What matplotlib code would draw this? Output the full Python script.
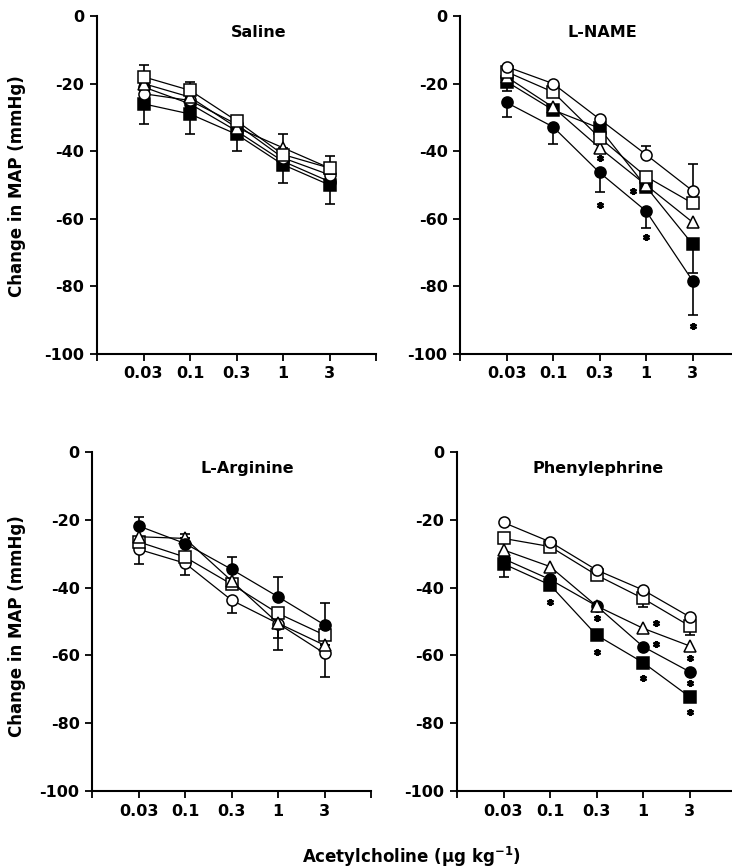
import numpy as np
import matplotlib
matplotlib.use("Agg")
import matplotlib.pyplot as plt

plt.rcParams["font.family"] = ["DejaVu Sans"]
plt.rcParams["font.weight"] = "bold"

doses = ["0.03", "0.1", "0.3", "1", "3"]

# Saline
saline_open_circle = [-23, -25, -32, -42, -47]
saline_open_square = [-18, -22, -31, -41, -45]
saline_open_triangle = [-20, -24, -33, -39, -45]
saline_filled_circle = [-21, -26, -34, -43, -49]
saline_filled_square = [-26, -29, -35, -44, -50]
saline_sq_err_up = [3.5, 2.5, 1.5, 0, 3.5]
saline_tri_err_up = [0, 0, 0, 4, 0]
saline_fsq_err_lo = [6, 6, 5, 5.5, 5.5]

# L-NAME
lname_open_circle = [-15, -20, -30.5, -41, -51.7]
lname_open_square = [-16.5, -22.5, -36, -47.5, -55.4]
lname_open_triangle = [-18, -27, -39, -50, -61]
lname_filled_square = [-19.4, -27.8, -33.2, -50.5, -67.5]
lname_filled_circle = [-25.6, -32.8, -46.3, -57.7, -78.3]
lname_oc_err_up = [0, 0, 0, 2.5, 8]
lname_fsq_err_lo = [2.8, 0, 0, 0, 8.5]
lname_fc_err_lo = [4.2, 5, 5.7, 5, 10.2]
lname_stars_x = [3, 3, 3.73, 4, 5]
lname_stars_y = [-42, -56, -51.7, -65.3, -91.7]

# L-Arginine
larg_filled_circle = [-21.8, -27, -34.6, -42.7, -51]
larg_open_triangle = [-25, -25.5, -38, -50.5, -57]
larg_open_square = [-26.5, -31, -39, -47.6, -54]
larg_open_circle = [-28.7, -32.8, -43.7, -50.6, -59.4]
larg_fc_err_up = [2.7, 2.8, 3.7, 5.9, 6.6]
larg_oc_err_lo = [4.3, 3.5, 3.7, 7.8, 6.9]
larg_tri_err_lo = [0, 0, 0, 4.4, 0]

# Phenylephrine
phe_open_circle = [-20.8, -26.5, -34.8, -40.7, -48.6]
phe_open_square = [-25.5, -27.9, -36.3, -43.2, -51.3]
phe_open_triangle = [-28.9, -33.8, -45.4, -52, -57.2]
phe_filled_circle = [-31.5, -37.6, -45.4, -57.4, -64.8]
phe_filled_square = [-33, -39.2, -54, -62.1, -72.2]
phe_sq_err_lo = [0, 0, 0, 2.6, 2.7]
phe_fsq_err_lo = [4, 0, 0, 0, 0]
phe_stars_x = [2, 3, 3, 4.27, 4.27, 4, 5, 5, 5]
phe_stars_y = [-44.2, -49, -58.9, -50.3, -56.6, -66.8, -60.9, -68, -76.6]

x = np.arange(1, 6)

fig = plt.figure(figsize=(7.32, 8.68), dpi=100)

unit_w = 46.5 / 732
axes_w = 6 * unit_w
ax_tl = fig.add_axes([97 / 732, 0.5922, axes_w, 0.3894])
ax_tr = fig.add_axes([460 / 732, 0.5922, axes_w, 0.3894])
ax_bl = fig.add_axes([92 / 732, 0.0887, axes_w, 0.3906])
ax_br = fig.add_axes([457 / 732, 0.0887, axes_w, 0.3906])

styles = {
    "oc": dict(marker="o", mfc="white"),
    "osq": dict(marker="s", mfc="white"),
    "otri": dict(marker="^", mfc="white"),
    "fc": dict(marker="o", mfc="black"),
    "fsq": dict(marker="s", mfc="black"),
}


def series(ax, y, kind, lo=None, hi=None):
    if lo is not None or hi is not None:
        lo = np.zeros(5) if lo is None else np.array(lo)
        hi = np.zeros(5) if hi is None else np.array(hi)
        ax.errorbar(x, y, yerr=[lo, hi], fmt="none", ecolor="black",
                    elinewidth=1.2, capsize=3.5, capthick=1.2, zorder=2)
    ax.plot(x, y, color="black", lw=0.9, ms=8, mec="black", mew=1.1,
            zorder=3, **styles[kind])


def stars(ax, sx, sy):
    ax.plot(sx, sy, ls="none", marker=(6, 2, 0), ms=5, mew=1.6,
            color="black", zorder=4)


def setup(ax, title, tx):
    ax.set_xlim(0, 6)
    ax.set_ylim(-100, 0)
    ax.set_xticks(range(7))
    ax.set_xticklabels([""] + doses + [""])
    ax.set_yticks([0, -20, -40, -60, -80, -100])
    ax.set_yticklabels(["0", "-20", "-40", "-60", "-80", "-100"])
    for s in ["top", "right"]:
        ax.spines[s].set_visible(False)
    for s in ["left", "bottom"]:
        ax.spines[s].set_linewidth(1.5)
    ax.tick_params(axis="both", direction="out", length=5, width=1.3,
                   labelsize=11.5, pad=4)
    ax.text(tx, 0.95, title, transform=ax.transAxes, ha="center",
            va="center", fontsize=11.5, fontweight="bold")


# Saline
series(ax_tl, saline_filled_square, "fsq", lo=saline_fsq_err_lo)
series(ax_tl, saline_filled_circle, "fc")
series(ax_tl, saline_open_circle, "oc")
series(ax_tl, saline_open_triangle, "otri", hi=saline_tri_err_up)
series(ax_tl, saline_open_square, "osq", hi=saline_sq_err_up)
setup(ax_tl, "Saline", 0.58)

# L-NAME
series(ax_tr, lname_filled_circle, "fc", lo=lname_fc_err_lo)
series(ax_tr, lname_filled_square, "fsq", lo=lname_fsq_err_lo)
series(ax_tr, lname_open_triangle, "otri")
series(ax_tr, lname_open_square, "osq")
series(ax_tr, lname_open_circle, "oc", hi=lname_oc_err_up)
stars(ax_tr, lname_stars_x, lname_stars_y)
setup(ax_tr, "L-NAME", 0.51)

# L-Arginine
series(ax_bl, larg_open_circle, "oc", lo=larg_oc_err_lo)
series(ax_bl, larg_open_square, "osq")
series(ax_bl, larg_open_triangle, "otri", lo=larg_tri_err_lo)
series(ax_bl, larg_filled_circle, "fc", hi=larg_fc_err_up)
setup(ax_bl, "L-Arginine", 0.555)

# Phenylephrine
series(ax_br, phe_filled_square, "fsq", lo=phe_fsq_err_lo)
series(ax_br, phe_filled_circle, "fc")
series(ax_br, phe_open_triangle, "otri")
series(ax_br, phe_open_square, "osq", lo=phe_sq_err_lo)
series(ax_br, phe_open_circle, "oc")
stars(ax_br, phe_stars_x, phe_stars_y)
setup(ax_br, "Phenylephrine", 0.505)

fig.text(17 / 732, 0.786, "Change in MAP (mmHg)", rotation=90, ha="center",
         va="center", fontsize=12, fontweight="bold")
fig.text(17 / 732, 0.279, "Change in MAP (mmHg)", rotation=90, ha="center",
         va="center", fontsize=12, fontweight="bold")
fig.text(412 / 732, 0.0127, "Acetylcholine (\u00b5g kg$^{\\mathbf{-1}}$)",
         ha="center", va="center", fontsize=12, fontweight="bold")

fig.savefig("out.png", dpi=100)
